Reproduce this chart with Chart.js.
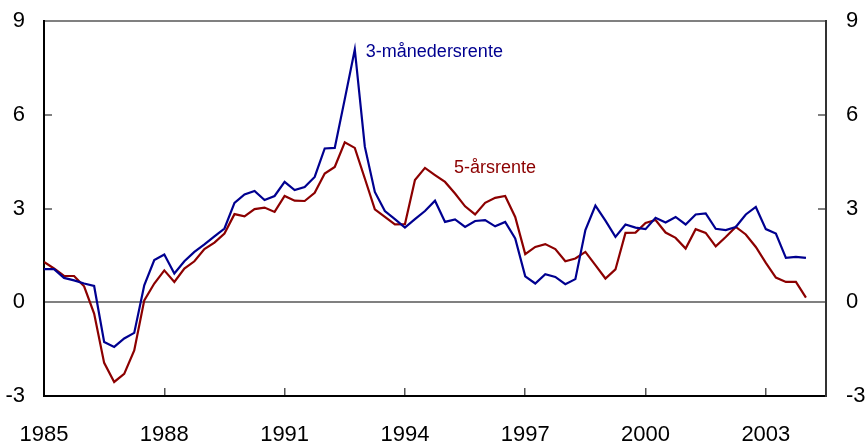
<!DOCTYPE html>
<html>
<head>
<meta charset="utf-8">
<script src="https://cdn.jsdelivr.net/npm/chart.js@4.4.0/dist/chart.umd.min.js"></script>
<style>
  body { margin: 0; background: #fff; }
  #wrap { width: 868px; height: 446px; }
</style>
</head>
<body>
<div id="wrap"><canvas id="chart"></canvas></div>
<script>
// quarterly data, 1985Q1 - 2004Q1
const firstYear = 1985;
const yearLabels = ["1985", "1988", "1991", "1994", "1997", "2000", "2003"];

const threeMonth = [
    1.06, 1.06, 0.78, 0.70, 0.60, 0.52, -1.27, -1.43, -1.16, -0.98,
    0.54, 1.35, 1.53, 0.92, 1.31, 1.61, 1.85, 2.11, 2.36, 3.18,
    3.45, 3.56, 3.27, 3.40, 3.85, 3.59, 3.69, 4.01, 4.92, 4.94,
    6.50, 8.09, 4.98, 3.53, 2.92, 2.66, 2.39, 2.66, 2.92, 3.25,
    2.57, 2.65, 2.41, 2.60, 2.63, 2.43, 2.57, 2.04, 0.83, 0.60,
    0.90, 0.81, 0.58, 0.74, 2.31, 3.09, 2.61, 2.09, 2.49, 2.39,
    2.34, 2.70, 2.55, 2.73, 2.49, 2.81, 2.84, 2.35, 2.31, 2.41,
    2.81, 3.05, 2.34, 2.20, 1.42, 1.45, 1.42
];

const fiveYear = [
    1.29, 1.08, 0.84, 0.84, 0.51, -0.36, -1.94, -2.55, -2.29, -1.54,
    0.06, 0.60, 1.02, 0.65, 1.08, 1.31, 1.70, 1.91, 2.20, 2.82,
    2.75, 2.98, 3.03, 2.89, 3.40, 3.25, 3.24, 3.50, 4.12, 4.33,
    5.12, 4.94, 3.96, 2.97, 2.73, 2.49, 2.50, 3.91, 4.30, 4.07,
    3.85, 3.48, 3.07, 2.81, 3.18, 3.34, 3.40, 2.73, 1.54, 1.77,
    1.86, 1.70, 1.31, 1.40, 1.61, 1.19, 0.76, 1.05, 2.22, 2.23,
    2.54, 2.63, 2.23, 2.06, 1.72, 2.34, 2.22, 1.79, 2.09, 2.41,
    2.17, 1.77, 1.26, 0.79, 0.65, 0.65, 0.15
];

const BLUE = "#000090";
const RED = "#8c0000";
const FONT = "'Liberation Sans', Arial, sans-serif";

function toPoints(arr) {
    return arr.map((v, i) => ({ x: i, y: v }));
}

// series name labels written inside the plot
const seriesLabels = {
    id: "seriesLabels",
    afterDatasetsDraw(chart) {
        const { ctx, scales } = chart;
        ctx.save();
        ctx.font = "18px " + FONT;
        ctx.textBaseline = "middle";
        ctx.textAlign = "left";
        ctx.fillStyle = BLUE;
        ctx.fillText("3-månedersrente", scales.x.getPixelForValue(32.1), scales.y.getPixelForValue(8.0));
        ctx.fillStyle = RED;
        ctx.fillText("5-årsrente", scales.x.getPixelForValue(40.9), scales.y.getPixelForValue(4.3));
        ctx.restore();
    }
};

const ctx = document.getElementById("chart").getContext("2d");
new Chart(ctx, {
    type: "line",
    data: {
        datasets: [
            {
                label: "3-månedersrente",
                data: toPoints(threeMonth),
                borderColor: BLUE,
                borderWidth: 2.2,
                pointRadius: 0,
                tension: 0,
                fill: false,
            },
            {
                label: "5-årsrente",
                data: toPoints(fiveYear),
                borderColor: RED,
                borderWidth: 2.2,
                pointRadius: 0,
                tension: 0,
                fill: false,
            }
        ]
    },
    options: {
        responsive: true,
        maintainAspectRatio: false,
        animation: false,
        layout: { padding: { top: 21, left: 0, right: 0, bottom: 0 } },
        plugins: {
            legend: { display: false },
            tooltip: { enabled: false },
        },
        scales: {
            x: {
                type: "linear",
                min: 0,
                max: 78,
                afterBuildTicks(scale) {
                    scale.ticks = yearLabels.map(y => ({ value: (Number(y) - firstYear) * 4 }));
                },
                afterFit(scale) {
                    scale.height = 50;
                    scale.paddingLeft = 0;
                    scale.paddingRight = 0;
                },
                ticks: {
                    autoSkip: false,
                    maxRotation: 0,
                    padding: 34,
                    color: "#000",
                    font: { family: FONT, size: 22 },
                    callback: (v, i) => yearLabels[i],
                },
                grid: {
                    drawOnChartArea: false,
                    tickLength: -8,
                    tickColor: "#555",
                    lineWidth: 1.5,
                },
                border: { color: "#000", width: 2 },
            },
            y: {
                position: "left",
                min: -3,
                max: 9,
                afterFit(scale) {
                    scale.width = 44;
                    scale.paddingTop = 0;
                    scale.paddingBottom = 0;
                },
                ticks: {
                    stepSize: 3,
                    padding: 27,
                    color: "#000",
                    font: { family: FONT, size: 22 },
                },
                grid: {
                    color: c => (c.tick.value === 0 || c.tick.value === 9) ? "#808080" : "rgba(0,0,0,0)",
                    lineWidth: 2,
                    tickLength: -8,
                    tickColor: c => c.tick.value === -3 ? "rgba(0,0,0,0)" : "#808080",
                },
                border: { color: "#000", width: 2 },
            },
            y2: {
                position: "right",
                min: -3,
                max: 9,
                afterFit(scale) {
                    scale.width = 42;
                    scale.paddingTop = 0;
                    scale.paddingBottom = 0;
                },
                ticks: {
                    stepSize: 3,
                    padding: 28,
                    color: "#000",
                    font: { family: FONT, size: 22 },
                },
                grid: {
                    drawOnChartArea: false,
                    lineWidth: 2,
                    tickLength: -8,
                    tickColor: c => c.tick.value === -3 ? "rgba(0,0,0,0)" : "#808080",
                },
                border: { color: "#333", width: 2 },
            }
        }
    },
    plugins: [seriesLabels]
});
</script>
</body>
</html>
